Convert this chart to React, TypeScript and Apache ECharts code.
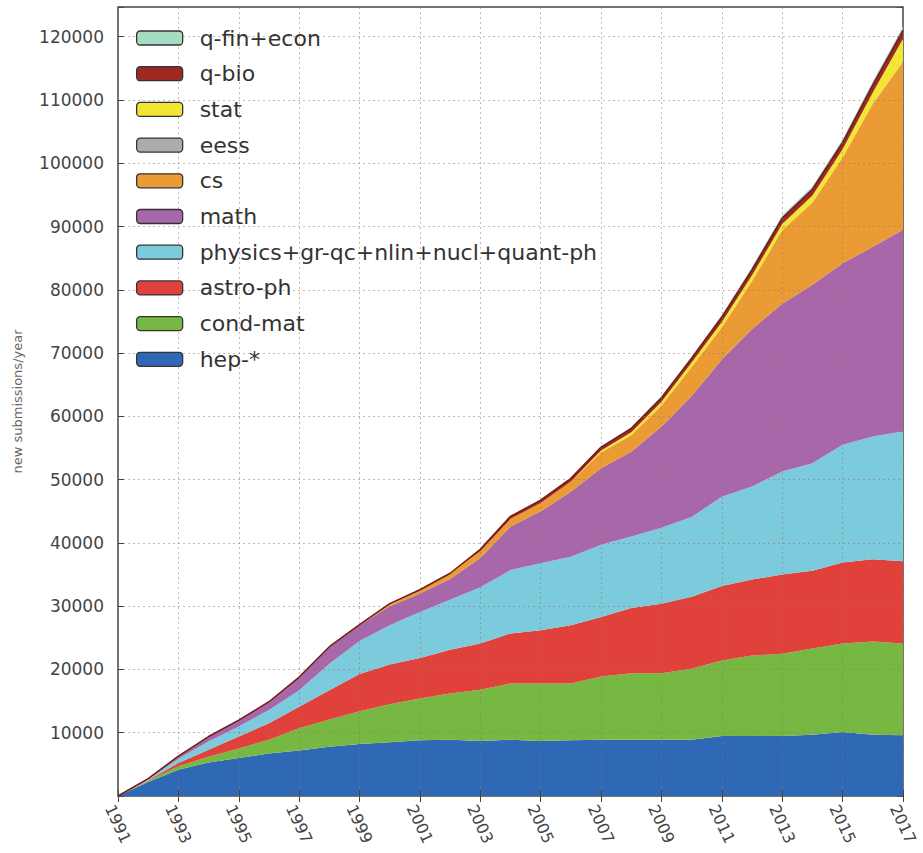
import React, { useEffect, useRef } from "react";
import * as echarts from "echarts";

const years = ["1991","1992","1993","1994","1995","1996","1997","1998","1999","2000","2001","2002","2003","2004","2005","2006","2007","2008","2009","2010","2011","2012","2013","2014","2015","2016","2017"];

const hep = [0, 2200, 4150, 5300, 6000, 6700, 7200, 7800, 8200, 8500, 8800, 8900, 8700, 8900, 8700, 8800, 8900, 8900, 8900, 8900, 9500, 9500, 9500, 9700, 10100, 9700, 9600];
const condMat = [0, 200, 550, 900, 1500, 2200, 3500, 4300, 5200, 6000, 6600, 7300, 8100, 8900, 9100, 9000, 10000, 10500, 10500, 11200, 11900, 12700, 13000, 13600, 14000, 14700, 14500];
const astroPh = [0, 100, 500, 1100, 1900, 2600, 3400, 4600, 5900, 6300, 6400, 6900, 7300, 7900, 8400, 9200, 9400, 10300, 11000, 11400, 11800, 12000, 12500, 12300, 12800, 13000, 13000];
const physics = [0, 100, 700, 1300, 1600, 2100, 2600, 4200, 5200, 6200, 7300, 7900, 8900, 10000, 10600, 10800, 11400, 11300, 12000, 12600, 14100, 14700, 16300, 17000, 18600, 19400, 20500];
const math = [0, 150, 400, 800, 1000, 1300, 2100, 2600, 2500, 3000, 2900, 3300, 4600, 6900, 8200, 10300, 12100, 13400, 16000, 19100, 21700, 24900, 26500, 28200, 28700, 30000, 31900];
const cs = [0, 0, 0, 0, 0, 0, 0, 100, 100, 400, 600, 900, 1100, 1200, 1300, 1600, 2500, 2600, 3300, 4600, 5100, 7600, 11600, 13000, 16700, 22600, 26500];
const eess = [0, 0, 0, 0, 0, 0, 0, 0, 0, 0, 0, 0, 0, 0, 0, 0, 0, 0, 0, 0, 0, 0, 0, 0, 0, 0, 100];
const stat = [0, 0, 0, 0, 0, 0, 0, 0, 0, 0, 0, 0, 0, 0, 0, 0, 300, 500, 600, 700, 800, 900, 1000, 1100, 1300, 1800, 3600];
const qBio = [0, 0, 0, 0, 0, 0, 0, 0, 0, 0, 0, 0, 300, 400, 450, 500, 550, 600, 650, 700, 800, 900, 950, 1000, 1100, 1200, 1300];
const qFin = [0, 0, 0, 0, 0, 0, 0, 0, 0, 0, 0, 0, 0, 0, 0, 0, 0, 200, 250, 300, 350, 400, 450, 450, 500, 550, 600];

const layers = [
  { name: "hep-*", data: hep, color: "#2f68b4" },
  { name: "cond-mat", data: condMat, color: "#77b843" },
  { name: "astro-ph", data: astroPh, color: "#e0413a" },
  { name: "physics+gr-qc+nlin+nucl+quant-ph", data: physics, color: "#7ccbdc" },
  { name: "math", data: math, color: "#a867a9" },
  { name: "cs", data: cs, color: "#eb9b33" },
  { name: "eess", data: eess, color: "#ababab" },
  { name: "stat", data: stat, color: "#f2e534" },
  { name: "q-bio", data: qBio, color: "#9c2a22" },
  { name: "q-fin+econ", data: qFin, color: "#a6dcc2" },
];

const gridLine = { show: true, lineStyle: { color: "rgba(150,110,110,0.5)", type: [2, 3], width: 1 } };

export default function App() {
  const ref = useRef<HTMLDivElement>(null);
  useEffect(() => {
    document.body.style.margin = "0";
    const chart = echarts.init(ref.current!, undefined, { renderer: "svg" });
    const font = "DejaVu Sans, sans-serif";
    chart.setOption({
      animation: false,
      backgroundColor: "#ffffff",
      grid: { left: 118, right: 20, top: 7, bottom: 57, show: true, borderColor: "#444", borderWidth: 1.5, backgroundColor: "transparent" },
      legend: {
        orient: "vertical",
        left: 136,
        top: 27,
        padding: 0,
        itemWidth: 46,
        itemHeight: 14,
        itemGap: 13.7,
        icon: "roundRect",
        itemStyle: { borderColor: "#333", borderWidth: 1.3 },
        textStyle: { fontFamily: font, fontSize: 22, color: "#333", lineHeight: 22, padding: [0, 0, 0, 12] },
        data: layers.map((l) => l.name).reverse(),
      },
      xAxis: [
        {
          type: "category",
          data: years,
          boundaryGap: false,
          z: 3,
          axisLine: { show: false },
          axisTick: { show: true, inside: true, length: 6, interval: 1, lineStyle: { color: "#444" } },
          axisLabel: { interval: 1, rotate: -65, align: "center", verticalAlign: "middle", margin: 28, fontFamily: font, fontSize: 16, color: "#444" },
          splitLine: { ...gridLine, interval: 1 },
        },
        {
          type: "category",
          data: years,
          boundaryGap: false,
          position: "top",
          axisLine: { show: false },
          axisTick: { show: true, inside: true, length: 6, interval: 1, lineStyle: { color: "#444" } },
          axisLabel: { show: false },
          splitLine: { show: false },
        },
      ],
      yAxis: [
        {
          type: "value",
          min: 0,
          max: 124700,
          interval: 10000,
          z: 3,
          name: "new submissions/year",
          nameLocation: "middle",
          nameGap: 94,
          nameTextStyle: { fontFamily: font, fontSize: 13, color: "#666" },
          axisLine: { show: false },
          axisTick: { show: true, inside: true, length: 6, lineStyle: { color: "#444" } },
          axisLabel: {
            margin: 14,
            fontFamily: font,
            fontSize: 17,
            color: "#444",
            formatter: (v: number) => (v > 0 && v % 10000 === 0 ? String(v) : ""),
          },
          splitLine: gridLine,
        },
        {
          type: "value",
          min: 0,
          max: 124700,
          interval: 10000,
          position: "right",
          axisLine: { show: false },
          axisTick: { show: true, inside: true, length: 6, lineStyle: { color: "#444" } },
          axisLabel: { show: false },
          splitLine: { show: false },
        },
      ],
      series: layers.map((l) => ({
        name: l.name,
        type: "line",
        stack: "total",
        data: l.data,
        symbol: "none",
        color: l.color,
        itemStyle: { color: l.color },
        lineStyle: l.name === "q-bio" ? { width: 1.5, color: "#6e1c14" } : { width: 0 },
        areaStyle: { color: l.color, opacity: 1 },
        z: 2,
      })),
    });
    return () => chart.dispose();
  }, []);
  return <div ref={ref} style={{ width: 923, height: 853 }} />;
}
